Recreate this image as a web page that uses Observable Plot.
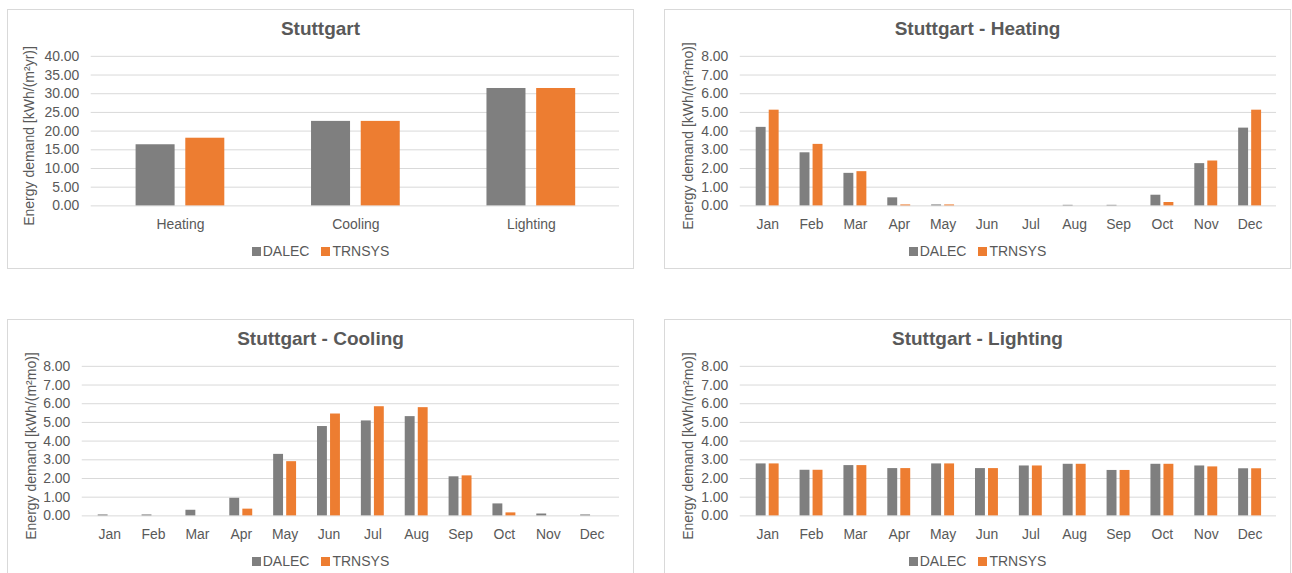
<!DOCTYPE html>
<html><head><meta charset="utf-8">
<script src="https://cdn.jsdelivr.net/npm/d3@7"></script>
<script src="https://cdn.jsdelivr.net/npm/@observablehq/plot@0.6"></script>
<style>
body{margin:0;background:#fff;font-family:"Liberation Sans",Arial,sans-serif;overflow:hidden;width:1292px;height:573px;position:relative}
.panel{position:absolute;width:627px;height:260px;border:1px solid #d9d9d9;box-sizing:border-box;background:#fff}
.panel svg{position:absolute;left:-1px;top:-1px}
.title{position:absolute;left:0;right:0;top:8px;text-align:center;font-weight:bold;font-size:19px;color:#595959;line-height:22px}
.ylab{position:absolute;width:240px;height:16px;line-height:16px;text-align:center;font-size:14px;color:#595959;transform:rotate(-90deg);white-space:nowrap}
.legend{position:absolute;left:0;right:0;display:flex;justify-content:center;align-items:center;font-size:14px;color:#595959;line-height:16px}
.legend .sw{display:inline-block;width:9px;height:9px;margin-right:2px}
.legend .item{display:flex;align-items:center;margin:0 6px}
</style>
</head><body>
<script>
const series = ["DALEC", "TRNSYS"];
const seriesColors = ["#7f7f7f", "#ed7d31"];
const annualCats = ["Heating", "Cooling", "Lighting"];
const annualDALEC = [16.35, 22.6, 31.4];
const annualTRNSYS = [18.1, 22.6, 31.4];
const annualTicks = [0, 5, 10, 15, 20, 25, 30, 35, 40];
const months = ["Jan","Feb","Mar","Apr","May","Jun","Jul","Aug","Sep","Oct","Nov","Dec"];
const monthTicks = [0, 1, 2, 3, 4, 5, 6, 7, 8];
const heatDALEC = [4.20, 2.84, 1.74, 0.43, 0.05, 0, 0, 0.03, 0.03, 0.57, 2.26, 4.16];
const heatTRNSYS = [5.12, 3.29, 1.83, 0.05, 0.05, 0, 0, 0, 0, 0.18, 2.40, 5.12];
const coolDALEC = [0.05, 0.05, 0.30, 0.94, 3.29, 4.78, 5.08, 5.31, 2.09, 0.64, 0.10, 0.05];
const coolTRNSYS = [0, 0, 0, 0.36, 2.90, 5.45, 5.84, 5.79, 2.14, 0.16, 0, 0];
const lightDALEC = [2.78, 2.44, 2.69, 2.53, 2.78, 2.53, 2.67, 2.76, 2.43, 2.76, 2.67, 2.52];
const lightTRNSYS = [2.78, 2.44, 2.69, 2.53, 2.78, 2.53, 2.67, 2.76, 2.43, 2.76, 2.62, 2.52];

function panel({left, top, title, ylabel, cats, a, b, ticks, ymax, mLeft, mRight, pad, ylabX}) {
  const div = document.createElement("div");
  div.className = "panel";
  div.style.left = left + "px";
  div.style.top = top + "px";
  document.body.appendChild(div);

  const W = 627, H = 240, mTop = 47, mBottom = 43;
  const plotW = W - mLeft - mRight;
  const step = plotW / cats.length;
  const bw = step * (1 - pad);
  const inset = bw * 0.56;
  const dataA = cats.map((c, i) => ({c, v: a[i]}));
  const dataB = cats.map((c, i) => ({c, v: b[i]}));

  const svg = Plot.plot({
    width: W, height: H,
    marginLeft: mLeft, marginRight: mRight, marginTop: mTop, marginBottom: mBottom,
    style: {fontSize: "14px", fontFamily: '"Liberation Sans", Arial, sans-serif', color: "#595959", background: "transparent"},
    x: {domain: cats, paddingInner: pad, paddingOuter: pad / 2, label: null, tickSize: 0, tickPadding: 13},
    y: {domain: [0, ymax], ticks: ticks, tickFormat: d3.format(".2f"), label: null, tickSize: 0, tickPadding: 12},
    marks: [
      Plot.ruleY(ticks, {stroke: "#d9d9d9", strokeWidth: 1}),
      Plot.barY(dataA, {x: "c", y: "v", fill: seriesColors[0], insetRight: inset}),
      Plot.barY(dataB, {x: "c", y: "v", fill: seriesColors[1], insetLeft: inset})
    ]
  });
  div.appendChild(svg);

  const t = document.createElement("div");
  t.className = "title";
  t.textContent = title;
  div.appendChild(t);

  const yl = document.createElement("div");
  yl.className = "ylab";
  yl.textContent = ylabel;
  yl.style.left = (ylabX - 120) + "px";
  yl.style.top = (126 - 8) + "px";
  div.appendChild(yl);

  const lg = document.createElement("div");
  lg.className = "legend";
  lg.style.top = (241 - 8) + "px";
  series.forEach((s, i) => {
    const it = document.createElement("span");
    it.className = "item";
    const sw = document.createElement("span");
    sw.className = "sw";
    sw.style.background = seriesColors[i];
    it.appendChild(sw);
    it.appendChild(document.createTextNode(s));
    lg.appendChild(it);
  });
  div.appendChild(lg);
}

panel({left: 7, top: 9, title: "Stuttgart", ylabel: "Energy demand [kWh/(m²yr)]", cats: annualCats,
  a: annualDALEC, b: annualTRNSYS, ticks: annualTicks, ymax: 40, mLeft: 84, mRight: 13, pad: 0.496, ylabX: 21});
panel({left: 664, top: 9, title: "Stuttgart - Heating", ylabel: "Energy demand [kWh/(m²mo)]", cats: months,
  a: heatDALEC, b: heatTRNSYS, ticks: monthTicks, ymax: 8, mLeft: 76, mRight: 13, pad: 0.48, ylabX: 23});
panel({left: 7, top: 319, title: "Stuttgart - Cooling", ylabel: "Energy demand [kWh/(m²mo)]", cats: months,
  a: coolDALEC, b: coolTRNSYS, ticks: monthTicks, ymax: 8, mLeft: 75, mRight: 13, pad: 0.48, ylabX: 23});
panel({left: 664, top: 319, title: "Stuttgart - Lighting", ylabel: "Energy demand [kWh/(m²mo)]", cats: months,
  a: lightDALEC, b: lightTRNSYS, ticks: monthTicks, ymax: 8, mLeft: 76, mRight: 13, pad: 0.48, ylabX: 23});
</script>
</body></html>
